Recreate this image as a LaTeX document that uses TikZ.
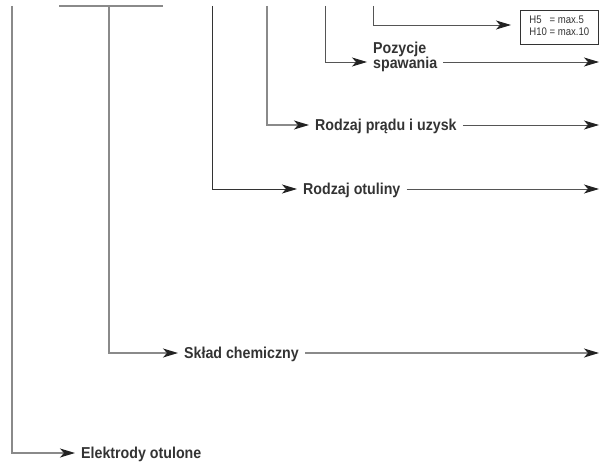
\documentclass[tikz,border=0pt]{standalone}
\usepackage{fontspec}
\setmainfont{Liberation Sans}
\newfontfamily\lblfont[FakeStretch=0.9]{Liberation Sans}
\newfontfamily\boxfont[FakeStretch=0.87]{Liberation Sans}
\usetikzlibrary{arrows.meta}
\definecolor{lgray}{HTML}{8A8A8A}
\definecolor{mgray}{HTML}{555555}
\definecolor{dgray}{HTML}{333333}
\definecolor{tip}{HTML}{222222}
\begin{document}
\begin{tikzpicture}[x=1pt,y=-1pt,
  lg/.style={draw=lgray, line width=1.2pt},
  mg/.style={draw=mgray, line width=0.9pt},
  dg/.style={draw=dgray, line width=0.9pt},
  arr/.style={-{Stealth[length=15pt,width=9pt,inset=4pt,color=tip]}},
  lbl/.style={font=\lblfont\bfseries\fontsize{15.8}{15}\selectfont, text=dgray,
    inner xsep=6pt, inner ysep=0pt, text height=11.3pt, text depth=0pt, anchor=west}]
\useasboundingbox (0,0) rectangle (601,462);
% corners
\coordinate (top1) at (59,6);
\coordinate (top2) at (163,6);
\coordinate (v1) at (12,6);    \coordinate (c1) at (12,453);
\coordinate (v2) at (109,6);   \coordinate (c2) at (109,353);
\coordinate (v3) at (212,6);   \coordinate (c3) at (212,189);
\coordinate (v4) at (267,6);   \coordinate (c4) at (267,125);
\coordinate (v5) at (325,6);   \coordinate (c5) at (325,62);
\coordinate (v6) at (373,6);   \coordinate (c6) at (373,25);
\coordinate (e2) at (599,353);
\coordinate (e3) at (599,189);
\coordinate (e4) at (599,125);
\coordinate (e5) at (599,62);
% labels
\node[lbl] (elek) at (75,453) {Elektrody otulone};
\node[lbl] (sklad) at (178,353) {Skład chemiczny};
\node[lbl] (otul) at (297,189) {Rodzaj otuliny};
\node[lbl] (prad) at (309,125) {Rodzaj prądu i uzysk};
\node[font=\lblfont\bfseries\fontsize{15.8}{15}\selectfont, text=dgray, align=left,
  inner xsep=6pt, inner ysep=0pt, anchor=north west] (poz) at (367,41.5) {Pozycje\\spawania};
\coordinate (pozl) at (poz.west |- c5);
\coordinate (pozr) at (poz.east |- c5);
\node[draw=dgray, line width=0.7pt, font=\boxfont\fontsize{11}{12.5}\selectfont, text=dgray,
  inner xsep=3pt, inner ysep=2pt, minimum width=78pt, minimum height=34pt, anchor=west] (box) at (520,27)
  {\begin{tabular}{@{}l@{ }l@{}}H5 & = max.5\\[-1pt] H10 & = max.10\end{tabular}};
% lines
\draw[lg] (top1) -- (top2);
\draw[lg,arr] (v1) -- (c1) -- (elek.west);
\draw[lg,arr] (v2) -- (c2) -- (sklad.west);
\draw[lg,arr] (sklad.east) -- (e2);
\draw[dg,arr] (v3) -- (c3) -- (otul.west);
\draw[mg,arr] (otul.east) -- (e3);
\draw[lg,arr] (v4) -- (c4) -- (prad.west);
\draw[mg,arr] (prad.east) -- (e4);
\draw[mg,arr] (v5) -- (c5) -- (pozl);
\draw[mg,arr] (pozr) -- (e5);
\draw[mg,arr] (v6) -- (c6) -- ([xshift=-9pt]box.west |- c6);
\end{tikzpicture}
\end{document}
